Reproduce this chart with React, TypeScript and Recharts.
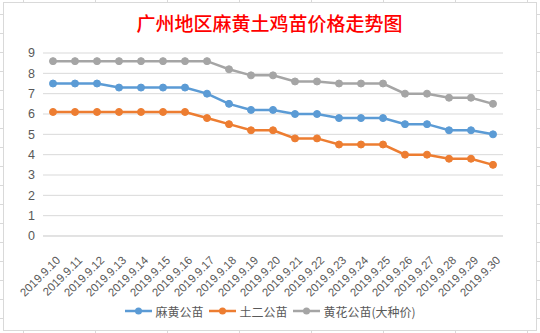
import React from "react"
import { LineChart, Line, XAxis, YAxis, CartesianGrid, Legend } from "recharts"

const dates = [
  "2019.9.10", "2019.9.11", "2019.9.12", "2019.9.13", "2019.9.14", "2019.9.15", "2019.9.16",
  "2019.9.17", "2019.9.18", "2019.9.19", "2019.9.20", "2019.9.21", "2019.9.22", "2019.9.23",
  "2019.9.24", "2019.9.25", "2019.9.26", "2019.9.27", "2019.9.28", "2019.9.29", "2019.9.30",
]
const mahuang = [7.5, 7.5, 7.5, 7.3, 7.3, 7.3, 7.3, 7.0, 6.5, 6.2, 6.2, 6.0, 6.0, 5.8, 5.8, 5.8, 5.5, 5.5, 5.2, 5.2, 5.0]
const tuer = [6.1, 6.1, 6.1, 6.1, 6.1, 6.1, 6.1, 5.8, 5.5, 5.2, 5.2, 4.8, 4.8, 4.5, 4.5, 4.5, 4.0, 4.0, 3.8, 3.8, 3.5]
const huanghua = [8.6, 8.6, 8.6, 8.6, 8.6, 8.6, 8.6, 8.6, 8.2, 7.9, 7.9, 7.6, 7.6, 7.5, 7.5, 7.5, 7.0, 7.0, 6.8, 6.8, 6.5]
const yTicks = [0, 1, 2, 3, 4, 5, 6, 7, 8, 9]

const series = [
  { key: "麻黄公苗", color: "#5B9BD5" },
  { key: "土二公苗", color: "#ED7D31" },
  { key: "黄花公苗(大种价)", color: "#A5A5A5" },
]

const data = dates.map((d, i) => ({
  date: d,
  "麻黄公苗": mahuang[i],
  "土二公苗": tuer[i],
  "黄花公苗(大种价)": huanghua[i],
}))

const labelFont = "Liberation Sans, Arial, sans-serif"
const cjkFont = "Noto Sans CJK SC, sans-serif"

function DateTick(props: any) {
  const { x, payload } = props
  const px = x + 8
  const py = 261
  return (
    <text
      x={px}
      y={py}
      transform={`rotate(-45, ${px}, ${py})`}
      textAnchor="end"
      fontSize={11.5}
      fill="#595959"
      style={{ fontFamily: labelFont }}
    >
      {payload.value}
    </text>
  )
}

function LegendContent() {
  return (
    <div style={{ display: "flex", justifyContent: "center", alignItems: "center", gap: 5, height: 20 }}>
      {series.map((s) => (
        <div key={s.key} style={{ display: "flex", alignItems: "center" }}>
          <svg width={29} height={10}>
            <line x1={1} y1={5} x2={28} y2={5} stroke={s.color} strokeWidth={2.5} />
            <circle cx={14.5} cy={5} r={3.5} fill={s.color} />
          </svg>
          <span style={{ fontFamily: cjkFont, fontSize: 12, color: "#595959", marginLeft: 2 }}>{s.key}</span>
        </div>
      ))}
    </div>
  )
}

const sheetBg = {
  backgroundColor: "#fff",
  backgroundImage:
    "repeating-linear-gradient(to right, transparent 0, transparent 23px, #d9d9d9 23px, #d9d9d9 24px, transparent 24px, transparent 72px)," +
    "repeating-linear-gradient(to bottom, transparent 0, transparent 14px, #d9d9d9 14px, #d9d9d9 15px, transparent 15px, transparent 19px)",
}

export default function App() {
  return (
    <div style={{ position: "absolute", left: 0, top: 0, width: 540, height: 333, overflow: "hidden", ...sheetBg }}>
      <div
        style={{
          position: "absolute",
          left: 3,
          top: 2,
          width: 534,
          height: 329,
          background: "#fff",
          border: "1px solid #d9d9d9",
          boxSizing: "border-box",
        }}
      />
      <div
        style={{
          position: "absolute",
          left: 3,
          top: 9,
          width: 533,
          textAlign: "center",
          color: "#FF0000",
          fontFamily: cjkFont,
          fontSize: 19,
          fontWeight: 500,
        }}
      >
        广州地区麻黄土鸡苗价格走势图
      </div>
      <div style={{ position: "absolute", left: 0, top: 0 }}>
        <LineChart width={540} height={333} data={data} margin={{ top: 53, right: 37, left: 0, bottom: 0 }}>
          <CartesianGrid vertical={false} stroke="#D9D9D9" />
          <XAxis
            dataKey="date"
            interval={0}
            axisLine={{ stroke: "#D9D9D9" }}
            tickLine={false}
            tick={<DateTick />}
            padding={{ left: 10, right: 10 }}
            height={77}
          />
          <YAxis
            domain={[0, 9]}
            ticks={yTicks}
            interval={0}
            width={43}
            axisLine={false}
            tickLine={false}
            tick={{ fontSize: 12.5, fill: "#595959", style: { fontFamily: labelFont } }}
          />
          <Legend content={<LegendContent />} wrapperStyle={{ top: 301, left: 0, width: 540 }} />
          {series.map((s) => (
            <Line
              key={s.key}
              dataKey={s.key}
              stroke={s.color}
              strokeWidth={2.5}
              dot={{ r: 3.5, fill: s.color, stroke: s.color, strokeWidth: 1 }}
              activeDot={false}
              isAnimationActive={false}
            />
          ))}
        </LineChart>
      </div>
    </div>
  )
}
